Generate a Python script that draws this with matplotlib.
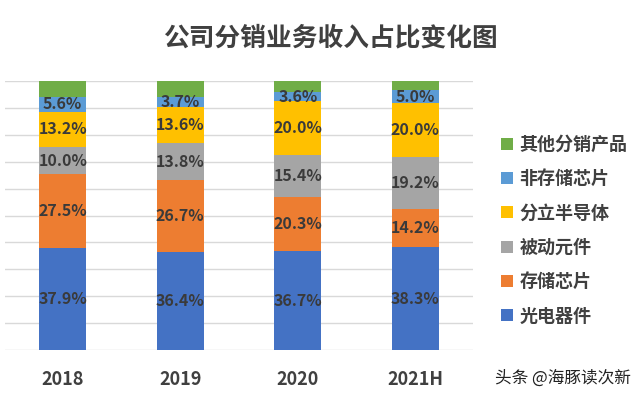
import numpy as np
import matplotlib
matplotlib.use('Agg')
import matplotlib.pyplot as plt

plt.rcParams['font.family'] = ['Noto Sans CJK SC', 'DejaVu Sans']

# data (percent of distribution revenue)
years = ['2018', '2019', '2020', '2021H']
optoelectronic = [37.9, 36.4, 36.7, 38.3]   # 光电器件
memory = [27.5, 26.7, 20.3, 14.2]           # 存储芯片
passive = [10.0, 13.8, 15.4, 19.2]          # 被动元件
discrete = [13.2, 13.6, 20.0, 20.0]         # 分立半导体
non_memory = [5.6, 3.7, 3.6, 5.0]           # 非存储芯片
other = [5.8, 5.8, 4.0, 3.3]                # 其他分销产品

series = [
    ('光电器件', optoelectronic, '#4472C4', True),
    ('存储芯片', memory, '#ED7D31', True),
    ('被动元件', passive, '#A5A5A5', True),
    ('分立半导体', discrete, '#FFC000', True),
    ('非存储芯片', non_memory, '#5B9BD5', True),
    ('其他分销产品', other, '#70AD47', False),
]

text_col = '#404040'

fig = plt.figure(figsize=(6.4, 3.97), dpi=100)
ax = fig.add_axes([0.008, 0.118, 0.731, 0.678])

x = np.arange(len(years))
bottom = np.zeros(len(years))
handles = []
for name, vals, col, show in series:
    vals = np.array(vals)
    b = ax.bar(x, vals, 0.4, bottom=bottom, color=col, label=name, zorder=2)
    handles.append(b)
    if show:
        for xi, v, bt in zip(x, vals, bottom):
            ax.text(xi, bt + v / 2, f'{v:.1f}%', ha='center', va='center',
                    fontsize=11.5, fontweight='bold', color='#3a3a3a', zorder=3)
    bottom += vals

ax.set_xlim(-0.49, 3.49)
ax.set_ylim(0, 100)
ax.set_yticks(np.arange(0, 101, 10))
ax.set_yticklabels([])
ax.tick_params(axis='y', length=0)
ax.tick_params(axis='x', length=0, pad=14)
ax.set_xticks(x)
ax.set_xticklabels(years, fontsize=13, fontweight='bold', color=text_col)
ax.grid(axis='y', color='#D9D9D9', linewidth=1, zorder=0)
for s in ax.spines.values():
    s.set_visible(False)

fig.text(0.516, 0.905, '公司分销业务收入占比变化图', ha='center', va='center',
         fontsize=18.5, fontweight='bold', color=text_col)

leg = fig.legend(handles[::-1], [s[0] for s in series][::-1],
                 loc='center left', bbox_to_anchor=(0.758, 0.42),
                 frameon=False, fontsize=13, handlelength=0.65,
                 handleheight=0.65, handletextpad=0.35, labelspacing=0.85)
for t in leg.get_texts():
    t.set_fontweight('bold')
    t.set_color(text_col)

fig.text(0.985, 0.048, '头条 @海豚读次新', ha='right', va='center',
         fontsize=12, color='#222222')

fig.savefig('out.png', dpi=100)
